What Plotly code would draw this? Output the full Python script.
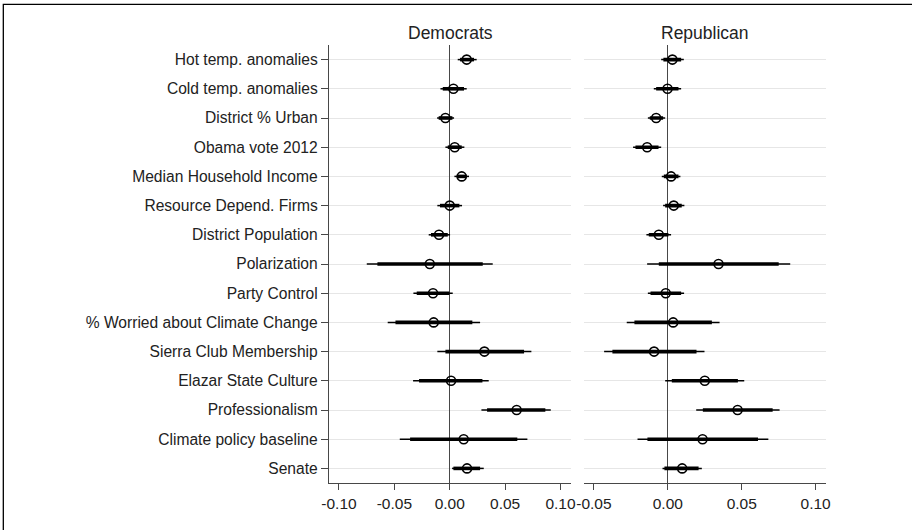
import plotly.graph_objects as go

categories = [
    "Hot temp. anomalies", "Cold temp. anomalies", "District % Urban",
    "Obama vote 2012", "Median Household Income", "Resource Depend. Firms",
    "District Population", "Polarization", "Party Control",
    "% Worried about Climate Change", "Sierra Club Membership",
    "Elazar State Culture", "Professionalism", "Climate policy baseline", "Senate",
]

# Democrats
dem_coef = [0.0153, 0.0033, -0.0039, 0.0045, 0.0108, 0.0000, -0.0097, -0.0180,
            -0.0151, -0.0145, 0.0313, 0.0012, 0.0604, 0.0126, 0.0156]
dem_lo_outer = [0.0072, -0.0084, -0.0114, -0.0039, 0.0042, -0.0112, -0.0190, -0.0749,
                -0.0328, -0.0560, -0.0112, -0.0331, 0.0286, -0.0451, 0.0021]
dem_hi_outer = [0.0243, 0.0153, 0.0039, 0.0132, 0.0174, 0.0111, 0.0003, 0.0388,
                0.0027, 0.0274, 0.0737, 0.0352, 0.0912, 0.0701, 0.0307]
dem_lo_inner = [0.0093, -0.0063, -0.0100, -0.0018, 0.0063, -0.0088, -0.0169, -0.0653,
                -0.0298, -0.0490, -0.0039, -0.0277, 0.0337, -0.0358, 0.0033]
dem_hi_inner = [0.0219, 0.0129, 0.0024, 0.0108, 0.0153, 0.0087, -0.0018, 0.0298,
                -0.0003, 0.0204, 0.0671, 0.0295, 0.0863, 0.0610, 0.0274]

# Republicans
rep_coef = [0.0031, -0.0002, -0.0079, -0.0140, 0.0022, 0.0040, -0.0061, 0.0343,
            -0.0014, 0.0036, -0.0093, 0.0250, 0.0472, 0.0235, 0.0097]
rep_lo_outer = [-0.0045, -0.0095, -0.0135, -0.0235, -0.0041, -0.0032, -0.0145, -0.0140,
                -0.0135, -0.0278, -0.0431, -0.0018, 0.0192, -0.0205, -0.0036]
rep_hi_outer = [0.0108, 0.0090, -0.0018, -0.0045, 0.0085, 0.0112, 0.0022, 0.0828,
                0.0110, 0.0350, 0.0248, 0.0517, 0.0756, 0.0680, 0.0230]
rep_lo_inner = [-0.0030, -0.0079, -0.0122, -0.0219, -0.0027, -0.0018, -0.0129, -0.0061,
                -0.0117, -0.0226, -0.0375, 0.0027, 0.0237, -0.0138, -0.0023]
rep_hi_inner = [0.0090, 0.0072, -0.0032, -0.0063, 0.0072, 0.0094, 0.0004, 0.0750,
                0.0090, 0.0298, 0.0194, 0.0474, 0.0709, 0.0610, 0.0208]

dem_ticks = [-0.10, -0.05, 0.00, 0.05, 0.10]
dem_tick_labels = ["-0.10", "-0.05", "0.00", "0.05", "0.10"]
rep_ticks = [-0.05, 0.00, 0.05, 0.10]
rep_tick_labels = ["-0.05", "0.00", "0.05", "0.10"]
panel_titles = ["Democrats", "Republican"]

FONT = "Liberation Sans, Arial, sans-serif"
AXC = "#474747"

fig = go.Figure()


def add_panel(coef, lo_o, hi_o, lo_i, hi_i, xa, ya):
    plus_o = [h - c for h, c in zip(hi_o, coef)]
    minus_o = [c - l for c, l in zip(coef, lo_o)]
    plus_i = [h - c for h, c in zip(hi_i, coef)]
    minus_i = [c - l for c, l in zip(coef, lo_i)]
    fig.add_trace(go.Scatter(
        x=coef, y=categories, mode="markers", xaxis=xa, yaxis=ya,
        marker=dict(size=1, color="rgba(0,0,0,0)"),
        error_x=dict(type="data", symmetric=False, array=plus_o, arrayminus=minus_o,
                     color="black", thickness=1.5, width=0),
        showlegend=False, hoverinfo="skip"))
    fig.add_trace(go.Scatter(
        x=coef, y=categories, mode="markers", xaxis=xa, yaxis=ya,
        marker=dict(size=1, color="rgba(0,0,0,0)"),
        error_x=dict(type="data", symmetric=False, array=plus_i, arrayminus=minus_i,
                     color="black", thickness=3.6, width=0),
        showlegend=False, hoverinfo="skip"))
    fig.add_trace(go.Scatter(
        x=coef, y=categories, mode="markers", xaxis=xa, yaxis=ya,
        marker=dict(symbol="circle-open", size=9, color="black",
                    line=dict(width=1.6, color="black")),
        showlegend=False))


add_panel(dem_coef, dem_lo_outer, dem_hi_outer, dem_lo_inner, dem_hi_inner, "x", "y")
add_panel(rep_coef, rep_lo_outer, rep_hi_outer, rep_lo_inner, rep_hi_inner, "x2", "y2")

xcommon = dict(showgrid=False, zeroline=True, zerolinecolor=AXC, zerolinewidth=1.3,
               showline=True, linecolor=AXC, linewidth=1.3, ticks="outside",
               ticklen=6, tickwidth=1.2, tickcolor=AXC, tickmode="array",
               tickfont=dict(family=FONT, size=15.5, color="#222222"),
               automargin=False, fixedrange=True)

ycommon = dict(type="category", categoryorder="array", categoryarray=categories,
               range=[14.5, -0.5], showgrid=True, gridcolor="#e6e6e6", gridwidth=1,
               zeroline=False, automargin=False, fixedrange=True)

fig.update_layout(
    width=912, height=530,
    margin=dict(l=329, r=86, t=45, b=47),
    paper_bgcolor="white", plot_bgcolor="white",
    font=dict(family=FONT, color="#222222"),
    xaxis=dict(domain=[0, 0.487], range=[-0.109, 0.1095], tickvals=dem_ticks,
               ticktext=dem_tick_labels, **xcommon),
    xaxis2=dict(domain=[0.5137, 1], range=[-0.0565, 0.107], tickvals=rep_ticks,
                ticktext=rep_tick_labels, anchor="y2", **xcommon),
    yaxis=dict(anchor="x", showline=True, linecolor=AXC, linewidth=1.3,
               ticks="outside", ticklen=7, tickwidth=1.2, tickcolor=AXC,
               tickfont=dict(family=FONT, size=15.6, color="#222222"), **ycommon),
    yaxis2=dict(anchor="x2", matches="y", showline=False, ticks="",
                showticklabels=False, **ycommon),
    annotations=[
        dict(text=panel_titles[0], x=0.2435, y=1.0274, xref="paper", yref="paper",
             xanchor="center", yanchor="middle", showarrow=False,
             font=dict(family=FONT, size=17.5, color="#222222")),
        dict(text=panel_titles[1], x=0.7568, y=1.0274, xref="paper", yref="paper",
             xanchor="center", yanchor="middle", showarrow=False,
             font=dict(family=FONT, size=17.5, color="#222222")),
    ],
    shapes=[
        dict(type="rect", xref="paper", yref="paper", x0=-0.6553, x1=1.2,
             y0=-0.13, y1=1.0929, line=dict(color="black", width=1.3),
             fillcolor="rgba(0,0,0,0)", layer="above"),
    ],
)

fig.write_html(
    "out.html",
    config={"displayModeBar": False},
    post_script="document.body.style.margin='0';document.body.style.overflow='hidden';"
                "document.documentElement.style.overflow='hidden';",
)
